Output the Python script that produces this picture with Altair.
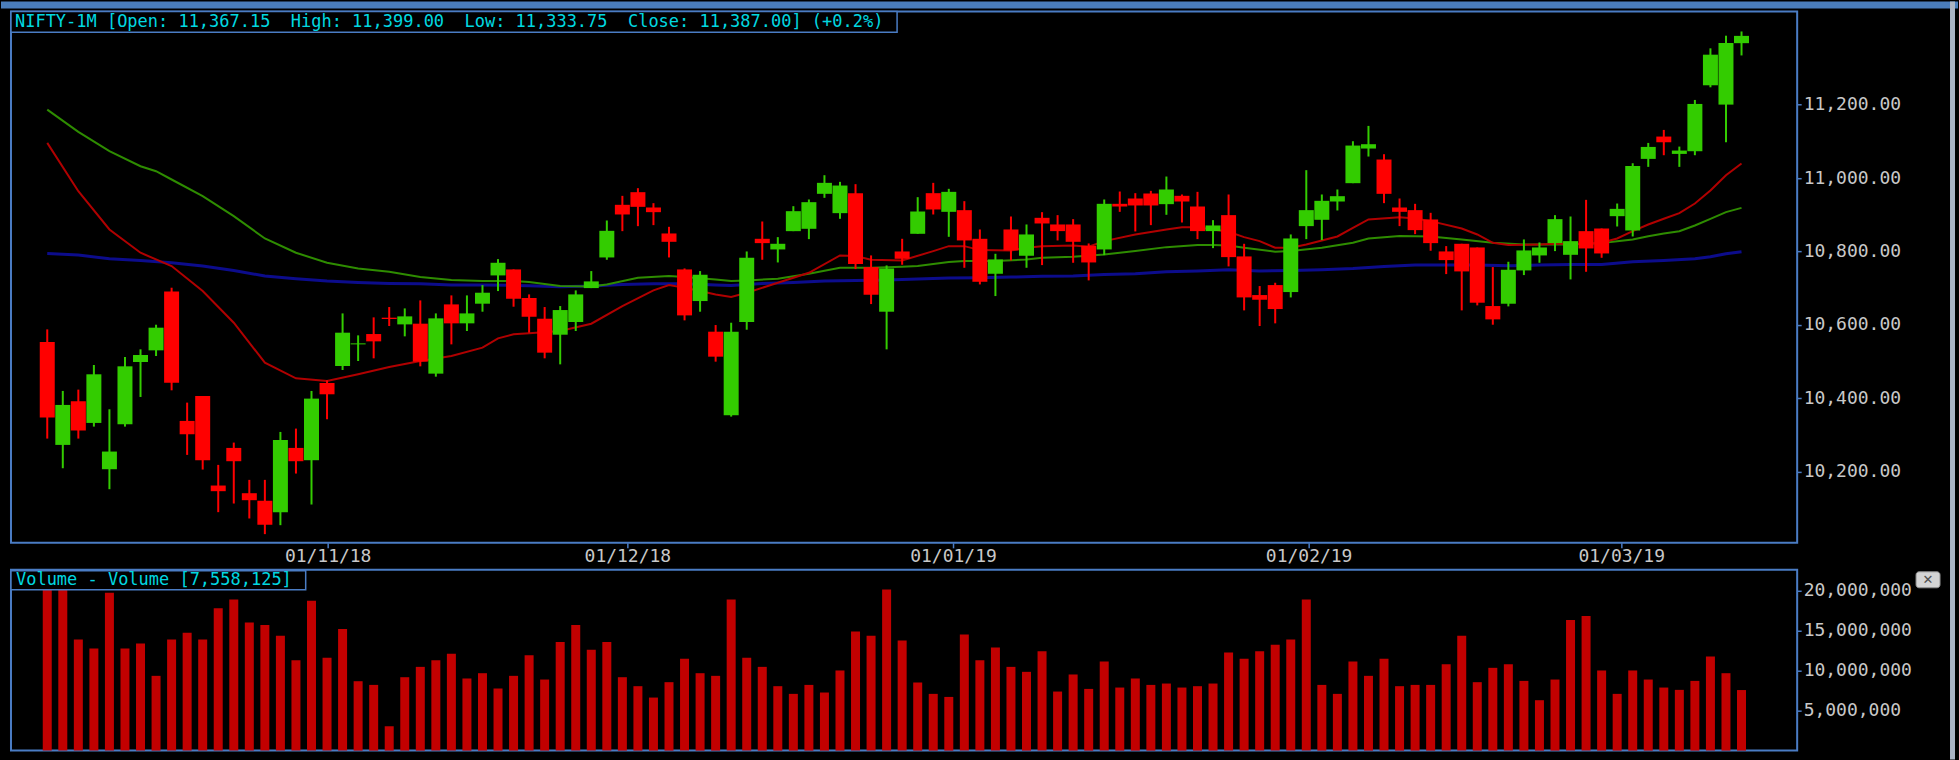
import altair as alt
import pandas as pd

# ---------------- data ----------------
opens = [10553.6, 10273.5, 10392.2, 10333.3, 10207.3, 10329.7, 10499.2, 10530.9, 10691.4, 10338.8,
         10406.7, 10162.9, 10265.3, 10142.0, 10121.2, 10090.4, 10265.3, 10231.8, 10442.1, 10488.3,
         10547.2, 10575.3, 10619.8, 10601.6, 10603.5, 10467.5, 10656.0, 10604.4, 10657.9, 10734.9,
         10751.2, 10673.2, 10617.0, 10573.5, 10608.0, 10700.4, 10783.8, 10927.1, 10961.5, 10919.8,
         10849.1, 10751.2, 10665.1, 10581.7, 10354.1, 10608.0, 10834.6, 10805.6, 10855.4, 10861.8,
         10957.0, 10904.4, 10958.8, 10757.5, 10636.1, 10800.1, 10848.2, 10958.8, 10908.0, 10912.5,
         10834.6, 10739.4, 10860.0, 10788.4, 10891.7, 10873.6, 10873.6, 10815.6, 10805.6, 10929.8,
         10944.3, 10957.9, 10928.9, 10951.6, 10922.5, 10855.5, 10899.0, 10786.6, 10681.4, 10708.6,
         10689.6, 10869.1, 10886.3, 10936.1, 10986.0, 11080.3, 11050.4, 10919.8, 10912.6, 10887.2,
         10800.2, 10821.0, 10811.0, 10651.5, 10657.8, 10748.5, 10789.3, 10822.8, 10791.0, 10855.4,
         10862.6, 10896.2, 10857.2, 11052.1, 11112.9, 11065.7, 11073.0, 11252.5, 11199.9, 11367.15]
highs = [10588.0, 10420.4, 10424.0, 10491.0, 10370.5, 10512.8, 10533.7, 10600.7, 10701.4, 10388.6,
         10406.7, 10219.1, 10279.8, 10178.3, 10178.3, 10308.8, 10317.9, 10420.4, 10449.3, 10631.5,
         10571.7, 10620.7, 10648.8, 10645.1, 10666.9, 10631.5, 10680.5, 10680.5, 10708.6, 10779.3,
         10751.2, 10683.2, 10648.8, 10651.5, 10694.1, 10746.7, 10884.4, 10951.5, 10972.4, 10931.6,
         10867.2, 10753.9, 10746.7, 10599.8, 10606.1, 10800.1, 10881.7, 10839.1, 10923.4, 10941.6,
         11007.7, 10989.6, 10983.3, 10789.3, 10762.1, 10834.6, 10947.9, 10986.9, 10970.6, 10937.0,
         10860.0, 10793.8, 10895.3, 10873.6, 10907.1, 10899.0, 10888.1, 10821.9, 10941.6, 10963.3,
         10958.8, 10965.1, 11004.1, 10955.2, 10962.4, 10885.4, 10955.2, 10821.0, 10705.9, 10714.9,
         10846.4, 11021.4, 10955.2, 10968.8, 11100.2, 11141.9, 11064.9, 10944.3, 10929.8, 10905.3,
         10814.7, 10821.0, 10811.0, 10757.6, 10772.1, 10832.8, 10824.6, 10899.0, 10895.3, 10940.6,
         10862.6, 10930.6, 11040.3, 11095.6, 11131.0, 11085.6, 11212.6, 11353.1, 11387.5, 11399.0]
lows = [10290.7, 10210.0, 10290.7, 10323.3, 10152.9, 10323.3, 10404.0, 10515.5, 10422.1, 10246.3,
        10206.4, 10090.4, 10113.9, 10073.2, 10030.6, 10055.0, 10195.5, 10111.2, 10343.3, 10477.4,
        10501.9, 10509.2, 10597.1, 10569.0, 10487.4, 10459.3, 10547.2, 10583.5, 10636.1, 10692.3,
        10649.7, 10579.0, 10509.2, 10492.8, 10583.5, 10700.4, 10777.5, 10855.4, 10869.0, 10871.8,
        10783.8, 10612.5, 10636.1, 10500.1, 10350.5, 10587.1, 10777.5, 10770.2, 10855.4, 10833.7,
        10946.1, 10889.0, 10752.1, 10656.9, 10533.6, 10763.9, 10848.2, 10900.8, 10840.0, 10755.7,
        10710.4, 10678.7, 10775.7, 10755.7, 10763.0, 10830.1, 10769.3, 10721.3, 10790.2, 10908.0,
        10854.6, 10871.8, 10899.9, 10879.0, 10833.7, 10809.2, 10759.4, 10639.7, 10597.1, 10604.4,
        10675.0, 10833.7, 10831.0, 10911.7, 10986.0, 11058.5, 10931.6, 10869.1, 10847.3, 10802.0,
        10738.5, 10639.7, 10653.3, 10600.7, 10650.6, 10735.8, 10769.3, 10801.1, 10724.0, 10744.8,
        10782.9, 10868.1, 10840.9, 11030.4, 11062.1, 11030.4, 11062.1, 11247.0, 11097.4, 11333.75]
closes = [10347.8, 10382.3, 10312.4, 10465.7, 10255.4, 10487.4, 10518.2, 10592.6, 10443.0, 10302.5,
          10231.8, 10147.5, 10229.1, 10123.0, 10055.9, 10287.1, 10229.1, 10399.5, 10411.3, 10579.0,
          10549.9, 10555.4, 10616.2, 10623.4, 10500.1, 10618.0, 10604.4, 10631.5, 10687.8, 10769.3,
          10671.4, 10622.5, 10524.6, 10640.6, 10683.2, 10718.6, 10856.3, 10900.8, 10921.6, 10907.1,
          10826.4, 10626.1, 10736.7, 10513.7, 10581.7, 10782.9, 10822.8, 10821.0, 10909.8, 10934.3,
          10986.9, 10979.6, 10765.7, 10682.3, 10753.9, 10780.2, 10908.9, 10914.4, 10962.4, 10830.1,
          10717.6, 10778.4, 10802.9, 10846.4, 10876.3, 10855.5, 10826.4, 10770.2, 10929.8, 10922.5,
          10925.3, 10925.3, 10968.8, 10936.1, 10855.5, 10870.9, 10784.7, 10675.0, 10668.7, 10643.3,
          10835.5, 10912.6, 10938.0, 10950.6, 11088.4, 11092.1, 10957.0, 10908.0, 10858.2, 10822.8,
          10776.6, 10745.8, 10660.6, 10615.2, 10750.3, 10802.9, 10811.0, 10888.1, 10828.2, 10808.3,
          10794.7, 10916.1, 11033.1, 11084.7, 11097.4, 11074.8, 11201.7, 11335.8, 11367.6, 11387.0]
volumes = [20300000, 20300000, 13870000, 12750000, 19700000, 12750000, 13370000, 9330000, 13870000, 14700000,
           13870000, 17750000, 18870000, 16000000, 15660000, 14330000, 11290000, 18700000, 11580000, 15160000,
           8660000, 8200000, 3040000, 9160000, 10450000, 11290000, 12080000, 9000000, 9660000, 7750000,
           9330000, 11910000, 8870000, 13540000, 15660000, 12580000, 13540000, 9160000, 8040000, 6620000,
           8540000, 11450000, 9660000, 9330000, 18870000, 11580000, 10450000, 8040000, 7080000, 8200000,
           7250000, 10000000, 14870000, 14330000, 20100000, 13750000, 8500000, 7080000, 6700000, 14500000,
           11290000, 12870000, 10450000, 9830000, 12410000, 7370000, 9500000, 7700000, 11120000, 7870000,
           9000000, 8200000, 8370000, 7870000, 8040000, 8370000, 12250000, 11450000, 12410000, 13200000,
           13870000, 18870000, 8200000, 7080000, 11120000, 9330000, 11450000, 8040000, 8200000, 8200000,
           10790000, 14330000, 8540000, 10330000, 10790000, 8700000, 6290000, 8870000, 16290000, 16790000,
           10000000, 7080000, 10000000, 8870000, 7870000, 7580000, 8700000, 11750000, 9660000, 7558125]

# moving-average lines (candle index, level)
ma_red_i = [0, 2, 4, 6, 8, 10, 12, 14, 16, 18, 20, 22, 24, 26, 28, 29, 30, 31, 33, 35, 37, 39, 40, 41, 42,
            43, 44, 45, 47, 49, 51, 52, 53, 55, 57, 58, 59, 60, 62, 63, 64, 66, 67, 68, 70, 72, 73, 74, 76,
            77, 78, 79, 80, 81, 83, 84, 85, 87, 88, 89, 91, 92, 93, 94, 96, 97, 98, 99, 100, 101, 102, 103,
            104, 105, 106, 107, 108, 109]
ma_red_v = [11095.7, 10964.2, 10860.0, 10796.6, 10760.3, 10692.3, 10606.2, 10497.4, 10454.8, 10447.5,
            10465.7, 10485.6, 10502.0, 10515.5, 10538.2, 10563.6, 10574.5, 10577.2, 10583.5, 10603.4,
            10651.5, 10694.1, 10708.6, 10701.3, 10692.3, 10683.2, 10676.0, 10687.7, 10714.9, 10742.1,
            10789.3, 10787.5, 10777.5, 10775.7, 10801.0, 10814.6, 10814.6, 10803.8, 10802.9, 10810.1,
            10814.0, 10816.5, 10812.9, 10828.3, 10846.4, 10860.0, 10866.3, 10866.3, 10853.6, 10839.1,
            10828.3, 10810.1, 10810.1, 10819.2, 10841.0, 10864.5, 10887.2, 10893.5, 10889.9, 10882.7,
            10862.7, 10846.4, 10823.7, 10817.4, 10819.2, 10821.0, 10821.0, 10821.0, 10823.7, 10835.5,
            10855.4, 10873.5, 10889.0, 10904.4, 10930.6, 10966.0, 11007.7, 11039.4]
ma_green_i = [0, 2, 4, 6, 7, 8, 10, 12, 14, 16, 18, 20, 22, 24, 26, 28, 30, 31, 33, 35, 36, 38, 40, 41, 43,
              44, 45, 47, 49, 51, 53, 55, 56, 58, 59, 61, 63, 64, 66, 68, 70, 72, 74, 75, 76, 77, 79, 80,
              82, 84, 85, 87, 89, 91, 93, 95, 97, 98, 100, 101, 102, 103, 104, 105, 106, 107, 108, 109]
ma_green_v = [11186.3, 11125.6, 11073.0, 11032.2, 11018.6, 10996.0, 10950.7, 10896.3, 10835.5, 10796.6,
              10769.3, 10754.0, 10744.9, 10730.4, 10722.2, 10719.4, 10719.4, 10716.7, 10705.9, 10705.0,
              10710.4, 10728.5, 10733.1, 10730.3, 10724.0, 10719.5, 10721.3, 10725.8, 10739.4, 10755.7,
              10755.7, 10758.4, 10760.3, 10771.1, 10773.9, 10773.9, 10778.4, 10782.9, 10785.6, 10792.0,
              10801.1, 10811.9, 10817.4, 10817.4, 10816.5, 10810.1, 10799.3, 10801.1, 10810.1, 10823.7,
              10835.5, 10841.9, 10841.0, 10832.8, 10823.7, 10819.2, 10819.2, 10819.2, 10822.8, 10828.2,
              10832.7, 10841.8, 10849.0, 10855.4, 10870.8, 10888.9, 10907.1, 10918.8]
ma_blue_i = [0, 2, 4, 6, 8, 10, 12, 14, 16, 18, 20, 22, 24, 26, 28, 30, 31, 33, 35, 37, 39, 41, 43, 44, 46,
             48, 50, 52, 54, 56, 58, 60, 62, 64, 66, 68, 70, 72, 74, 76, 78, 80, 82, 84, 86, 88, 90, 92, 94,
             96, 98, 100, 102, 104, 106, 107, 108, 109]
ma_blue_v = [10794.7, 10790.2, 10780.2, 10775.7, 10769.4, 10760.3, 10748.5, 10733.1, 10725.8, 10719.4,
             10715.8, 10713.1, 10712.2, 10708.6, 10708.6, 10707.7, 10706.5, 10704.1, 10705.9, 10710.4,
             10712.2, 10712.2, 10708.6, 10707.7, 10713.1, 10715.8, 10719.5, 10721.3, 10722.2, 10724.9,
             10727.6, 10728.5, 10730.3, 10732.5, 10733.1, 10737.6, 10739.4, 10744.9, 10746.7, 10750.3,
             10746.7, 10748.5, 10750.3, 10753.9, 10759.4, 10763.0, 10763.0, 10763.0, 10761.2, 10763.0,
             10764.8, 10764.8, 10772.0, 10775.6, 10780.2, 10785.6, 10793.7, 10799.2]

price_ticks = [10200, 10400, 10600, 10800, 11000, 11200]
volume_ticks = [5000000, 10000000, 15000000, 20000000]
date_tick_pos = [18.04, 37.32, 58.27, 81.15, 101.26]
date_tick_labels = ["01/11/18", "01/12/18", "01/01/19", "01/02/19", "01/03/19"]

price_title = ("NIFTY-1M [Open: 11,367.15\u00a0\u00a0High: 11,399.00\u00a0\u00a0"
               "Low: 11,333.75\u00a0\u00a0Close: 11,387.00] (+0.2%)")
volume_title = "Volume - Volume [7,558,125]"

# ---------------- styling ----------------
FRAME = "#4a7cc4"
CYAN = "#00d8e0"
LABEL = "#c8c8c8"
UP = "#33cc00"
DOWN = "#ff0000"
MONO = "DejaVu Sans Mono"

n = len(opens)
idx = list(range(n))
candles = pd.DataFrame({
    "i": idx, "open": opens, "high": highs, "low": lows, "close": closes,
    "dir": ["up" if c >= o else "down" for o, c in zip(opens, closes)],
})
vol = pd.DataFrame({"i": idx, "volume": volumes})
ma_red = pd.DataFrame({"i": ma_red_i, "value": ma_red_v})
ma_green = pd.DataFrame({"i": ma_green_i, "value": ma_green_v})
ma_blue = pd.DataFrame({"i": ma_blue_i, "value": ma_blue_v})
one = pd.DataFrame({"t": [price_title]})
one_v = pd.DataFrame({"t": [volume_title]})

expr = ""
for k in range(len(date_tick_pos) - 1):
    mid = (date_tick_pos[k] + date_tick_pos[k + 1]) / 2
    expr += f"datum.value < {mid} ? '{date_tick_labels[k]}' : "
expr += f"'{date_tick_labels[-1]}'"

X_SCALE = alt.Scale(domain=[-2.333, 112.58], nice=False, zero=False, padding=0)
P_SCALE = alt.Scale(domain=[10006.9, 11453.7], nice=False, zero=False)
V_SCALE = alt.Scale(domain=[0, 22560000], nice=False, zero=False)

x_axis = alt.Axis(orient="bottom", values=date_tick_pos, labelExpr=expr, title=None, grid=False,
                  domain=False, tickSize=5, tickColor=FRAME, tickWidth=1.5, labelColor=LABEL,
                  labelFont=MONO, labelFontSize=18, labelPadding=0, labelOverlap=False,
                  labelFlush=False)
p_axis = alt.Axis(orient="right", values=price_ticks, format=",.2f", title=None, grid=False,
                  domain=False, tickSize=4, tickColor=FRAME, tickWidth=1.5, labelColor=LABEL,
                  labelFont=MONO, labelFontSize=18, labelPadding=2, labelOverlap=False,
                  labelFlush=False)
v_axis = alt.Axis(orient="right", values=volume_ticks, format=",d", title=None, grid=False,
                  domain=False, tickSize=4, tickColor=FRAME, tickWidth=1.5, labelColor=LABEL,
                  labelFont=MONO, labelFontSize=18, labelPadding=2, labelOverlap=False,
                  labelFlush=False)

X = alt.X("i:Q", scale=X_SCALE, axis=x_axis)
XV = alt.X("i:Q", scale=X_SCALE, axis=None)
COLOR = alt.Color("dir:N", scale=alt.Scale(domain=["up", "down"], range=[UP, DOWN]), legend=None)


def ma_layer(df, color, width):
    return alt.Chart(df).mark_line(color=color, strokeWidth=width).encode(
        x=X, y=alt.Y("value:Q", scale=P_SCALE, axis=p_axis))


wicks = alt.Chart(candles).mark_rule(strokeWidth=2).encode(
    x=X, y=alt.Y("low:Q", scale=P_SCALE, axis=p_axis), y2="high:Q", color=COLOR)
bodies = alt.Chart(candles).mark_bar(size=15).encode(
    x=X, y=alt.Y("open:Q", scale=P_SCALE, axis=p_axis), y2="close:Q", color=COLOR)

top_bar = alt.Chart(one).mark_rect(color="#4a7dbb").encode(
    x=alt.value(-10), x2=alt.value(1949), y=alt.value(-10), y2=alt.value(-3))
title_box = alt.Chart(one).mark_rect(fill="#000000", stroke=FRAME, strokeWidth=1.5).encode(
    x=alt.value(0), x2=alt.value(887), y=alt.value(0), y2=alt.value(21))
title_text = alt.Chart(one).mark_text(align="left", baseline="middle", font=MONO, fontSize=17,
                                       color=CYAN).encode(
    x=alt.value(4), y=alt.value(11), text="t:N")

price = alt.layer(
    ma_layer(ma_blue, "#0c0c8c", 3),
    ma_layer(ma_green, "#2e8c00", 2),
    ma_layer(ma_red, "#b00000", 2),
    wicks, bodies, top_bar, title_box, title_text,
).properties(width=1788, height=532)

vbars = alt.Chart(vol).mark_bar(size=9, color="#c20000").encode(
    x=XV, y=alt.Y("volume:Q", scale=V_SCALE, axis=v_axis))
vbox = alt.Chart(one_v).mark_rect(fill="#000000", stroke=FRAME, strokeWidth=1.5).encode(
    x=alt.value(0), x2=alt.value(295), y=alt.value(1), y2=alt.value(20))
vtext = alt.Chart(one_v).mark_text(align="left", baseline="middle", font=MONO, fontSize=17,
                                    color=CYAN).encode(
    x=alt.value(5), y=alt.value(10.5), text="t:N")
close_btn = alt.Chart(one_v).mark_rect(fill="#d4d4d4", stroke="#909090", strokeWidth=1,
                                        cornerRadius=3).encode(
    x=alt.value(1907), x2=alt.value(1931), y=alt.value(2), y2=alt.value(18))
close_x = alt.Chart(one_v).mark_text(text="\u2715", fontSize=13, color="#505050", font="DejaVu Sans",
                                      align="center", baseline="middle").encode(
    x=alt.value(1919), y=alt.value(10.5))
right_strip = alt.Chart(one_v).mark_rect(color="#aab4c4").encode(
    x=alt.value(1941), x2=alt.value(1946), y=alt.value(-569), y2=alt.value(190))
bottom_fill = alt.Chart(one_v).mark_rect(color="#000000").encode(
    x=alt.value(-10), x2=alt.value(1940), y=alt.value(182.5), y2=alt.value(190))

volume = alt.layer(vbars, vbox, vtext, close_btn, close_x, right_strip, bottom_fill).properties(
    width=1788, height=181)

chart = alt.vconcat(price, volume, spacing=27, bounds="flush").properties(
    background="#000000", padding=0
).configure_view(stroke=FRAME, strokeWidth=2, fill="#000000")

chart.save("out.html", embed_options={"renderer": "svg", "actions": False})
